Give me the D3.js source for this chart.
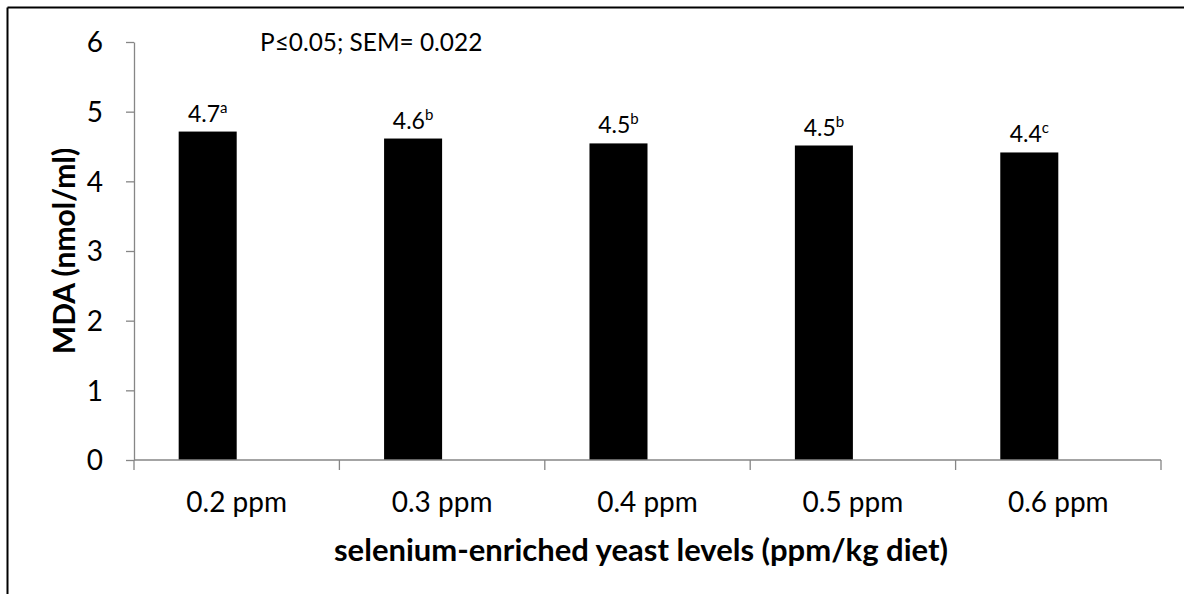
<!DOCTYPE html>
<html><head><meta charset="utf-8">
<script src="https://cdn.jsdelivr.net/npm/d3@7"></script>
<style>
html,body{margin:0;padding:0;background:#fff;overflow:hidden}
svg{display:block}
text{font-family:Lato,"Open Sans",sans-serif;fill:#000}
</style>
</head><body>
<svg id="c" width="1184" height="594"></svg>
<script>
const categories = ["0.2 ppm","0.3 ppm","0.4 ppm","0.5 ppm","0.6 ppm"];
const values = [4.7, 4.6, 4.53, 4.5, 4.4];
const valueLabels = ["4.7","4.6","4.5","4.5","4.4"];
const letters = ["a","b","b","b","c"];
const yTicks = [0,1,2,3,4,5,6];
const seriesSlots = ["MDA","(empty)"];
const annotation = "P\u22640.05; SEM= 0.022";
const yTitle = "MDA (nmol/ml)";
const xTitle = "selenium-enriched yeast levels (ppm/kg diet)";

const svg = d3.select("#c");
const W = 1184, H = 594;
const m = {left:134, right:1161, top:42, bottom:460};
const axisColor = "#868686";

// outer frame (top and left edges)
svg.append("line").attr("x1",7.5).attr("x2",W).attr("y1",7.5).attr("y2",7.5)
  .attr("stroke","#000").attr("stroke-width",2);
svg.append("line").attr("x1",7.5).attr("x2",7.5).attr("y1",7.5).attr("y2",H)
  .attr("stroke","#000").attr("stroke-width",2);

const x = d3.scaleBand().domain(categories).range([m.left, m.right]).padding(0);
const xs = d3.scaleBand().domain(seriesSlots).range([0, x.bandwidth()]).paddingInner(0).paddingOuter(0.77);
const y = d3.scaleLinear().domain([0,6]).range([m.bottom, m.top]);

// bars
svg.append("g").selectAll("rect").data(values).join("rect")
  .attr("x",(d,i)=>x(categories[i])+xs("MDA"))
  .attr("width",xs.bandwidth())
  .attr("y",d=>y(d)-1)
  .attr("height",d=>y(0)-y(d)+1)
  .attr("fill","#000");

// y axis
const yAxis = svg.append("g").attr("transform",`translate(${m.left},0)`)
  .call(d3.axisLeft(y).tickValues(yTicks).tickFormat(d3.format("d")).tickSize(8).tickSizeOuter(0).tickPadding(23));
yAxis.select(".domain").attr("stroke",axisColor).attr("stroke-width",1.3);
yAxis.selectAll(".tick line").attr("stroke",axisColor).attr("stroke-width",1.3);
yAxis.selectAll(".tick text").attr("font-size",28).attr("font-family","Lato").attr("fill","#000").attr("dy","0.35em");

// x axis line and boundary ticks
const xg = svg.append("g");
xg.append("line").attr("x1",m.left).attr("x2",m.right).attr("y1",y(0)).attr("y2",y(0))
  .attr("stroke",axisColor).attr("stroke-width",1.3);
const bounds = categories.map(c=>x(c)).concat([x.range()[1]]);
xg.selectAll("line.b").data(bounds).join("line").attr("class","b")
  .attr("x1",d=>d).attr("x2",d=>d).attr("y1",y(0)).attr("y2",y(0)+10)
  .attr("stroke",axisColor).attr("stroke-width",1.3);
xg.selectAll("text").data(categories).join("text")
  .attr("x",d=>x(d)+x.bandwidth()/2).attr("y",512)
  .attr("text-anchor","middle").attr("font-size",28).text(d=>d);

// data labels
const lab = svg.append("g").selectAll("text").data(values).join("text")
  .attr("x",(d,i)=>x(categories[i])+xs("MDA")+xs.bandwidth()/2)
  .attr("y",d=>y(d)-11)
  .attr("text-anchor","middle").attr("font-size",23);
lab.append("tspan").text((d,i)=>valueLabels[i]);
lab.append("tspan").attr("font-size",15).attr("dy",-9).text((d,i)=>letters[i]);

// annotation
svg.append("text").attr("x",260).attr("y",51).attr("font-size",24.4).text(annotation);

// axis titles
svg.append("text").attr("transform",`translate(75,251) rotate(-90)`)
  .attr("text-anchor","middle").attr("font-size",30).attr("font-weight","bold").text(yTitle);
svg.append("text").attr("x",641).attr("y",561)
  .attr("text-anchor","middle").attr("font-size",31).attr("font-weight","bold").text(xTitle);
</script>
</body></html>
